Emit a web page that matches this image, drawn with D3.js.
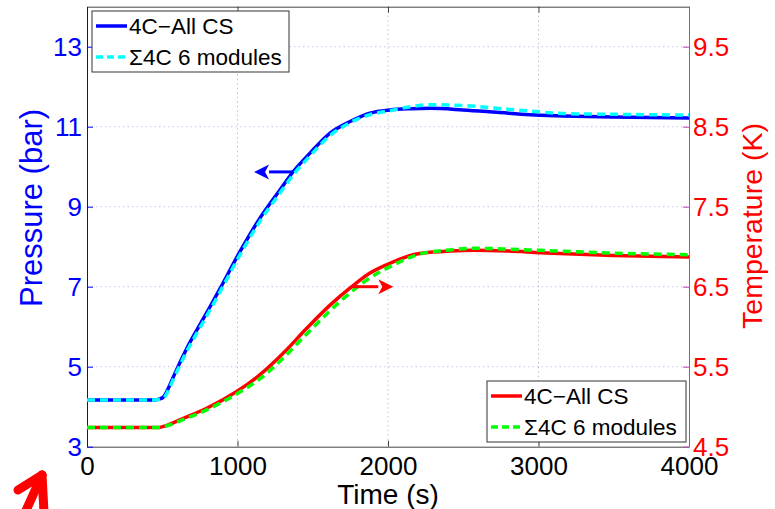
<!DOCTYPE html>
<html>
<head>
<meta charset="utf-8">
<script src="https://cdn.jsdelivr.net/npm/d3@7"></script>
<style>
  body { margin: 0; background: #fff; }
  svg { display: block; }
  text { font-family: "Liberation Sans", Arial, Helvetica, sans-serif; }
</style>
</head>
<body>
<div id="chart"></div>
<script>
// axis ticks
const timeTicks = [0, 1000, 2000, 3000, 4000];
const pressureTicks = [3, 5, 7, 9, 11, 13];
const tempTicks = [4.5, 5.5, 6.5, 7.5, 8.5, 9.5];

// pressure (bar), left axis
const pTime = [0, 440, 480, 510, 545, 585, 662, 773, 884, 1005, 1150, 1282, 1371, 1482, 1615, 1748, 1880, 2013, 2150, 2279, 2498, 2724, 2944, 3163, 3495, 4000];
const pAllCS = [4.17, 4.17, 4.19, 4.25, 4.5, 4.84, 5.45, 6.2, 6.95, 7.8, 8.72, 9.42, 9.88, 10.34, 10.84, 11.13, 11.34, 11.42, 11.45, 11.46, 11.42, 11.36, 11.30, 11.27, 11.24, 11.22];
const pSum6 = [4.17, 4.17, 4.18, 4.22, 4.45, 4.78, 5.38, 6.12, 6.87, 7.72, 8.64, 9.34, 9.80, 10.27, 10.78, 11.10, 11.30, 11.40, 11.50, 11.55, 11.53, 11.46, 11.39, 11.33, 11.31, 11.29];

// temperature (K), right axis
const tTime = [0, 480, 520, 640, 795, 995, 1150, 1305, 1460, 1615, 1759, 1880, 2035, 2166, 2235, 2412, 2565, 2800, 3010, 3495, 4000];
const tAllCS = [4.74, 4.74, 4.76, 4.855, 4.98, 5.19, 5.40, 5.67, 5.98, 6.27, 6.50, 6.67, 6.81, 6.90, 6.92, 6.945, 6.955, 6.945, 6.925, 6.89, 6.87];
const tSum6 = [4.74, 4.74, 4.755, 4.84, 4.96, 5.16, 5.35, 5.61, 5.91, 6.20, 6.44, 6.61, 6.77, 6.88, 6.92, 6.96, 6.98, 6.97, 6.955, 6.92, 6.90];

const legendTop = ["4C\u2212All CS", "\u03A34C 6 modules"];
const legendBottom = ["4C\u2212All CS", "\u03A34C 6 modules"];

const W = 775, H = 509;
const plotLeft = 87, plotRight = 689, plotTop = 6.7, plotBottom = 446.7;

const svg = d3.select("#chart").append("svg")
  .attr("width", W)
  .attr("height", H);

const x = d3.scaleLinear().domain([0, 4000]).range([plotLeft, plotRight]);
const yP = d3.scaleLinear().domain([3, 14]).range([plotBottom, plotTop]);
const yT = d3.scaleLinear().domain([4.5, 10]).range([plotBottom, plotTop]);

// grid
svg.append("g").selectAll("line")
  .data(timeTicks.slice(1, -1))
  .enter().append("line")
  .attr("x1", d => x(d)).attr("x2", d => x(d))
  .attr("y1", plotTop).attr("y2", plotBottom)
  .attr("stroke", "#c4c4c4")
  .attr("stroke-width", 1)
  .attr("stroke-dasharray", "1.5,3");

svg.append("g").selectAll("line")
  .data(pressureTicks.slice(1))
  .enter().append("line")
  .attr("x1", plotLeft).attr("x2", plotRight)
  .attr("y1", d => yP(d)).attr("y2", d => yP(d))
  .attr("stroke", "#c8c8f4")
  .attr("stroke-width", 1)
  .attr("stroke-dasharray", "1.5,3");

// axes
function styleAxis(g, color, fontColor) {
  g.select(".domain").attr("stroke", color).attr("stroke-width", 1);
  g.selectAll(".tick line").attr("stroke", color);
  g.selectAll(".tick text")
    .attr("fill", fontColor)
    .style("font-size", "26px")
    .style("font-family", "\"Liberation Sans\", Arial, sans-serif");
}

svg.append("g")
  .attr("transform", "translate(0," + plotTop + ")")
  .call(d3.axisTop(x).tickValues(timeTicks).tickSize(-6).tickSizeOuter(0).tickFormat(""))
  .call(g => styleAxis(g, "#444", "#000"));

svg.append("g")
  .attr("transform", "translate(0," + plotBottom + ")")
  .call(d3.axisBottom(x).tickValues(timeTicks).tickFormat(d3.format("d"))
    .tickSize(-6).tickSizeOuter(0).tickPadding(10))
  .call(g => styleAxis(g, "#444", "#000"));

svg.append("g")
  .attr("transform", "translate(" + plotLeft + ",0)")
  .call(d3.axisLeft(yP).tickValues(pressureTicks).tickSize(-6).tickSizeOuter(0).tickPadding(5))
  .call(g => styleAxis(g, "#0000ff", "#0000ff"));

svg.append("g")
  .attr("transform", "translate(" + plotRight + ",0)")
  .call(d3.axisRight(yT).tickValues(tempTicks).tickFormat(d3.format(".1f"))
    .tickSize(-6).tickSizeOuter(0).tickPadding(4))
  .call(g => styleAxis(g, "#c040b0", "#ff0000"));

// axis titles
svg.append("text")
  .attr("x", (plotLeft + plotRight) / 2)
  .attr("y", 504)
  .attr("text-anchor", "middle")
  .style("font-size", "28px")
  .text("Time (s)");

svg.append("text")
  .attr("transform", "translate(42,208) rotate(-90)")
  .attr("text-anchor", "middle")
  .attr("fill", "#0000ff")
  .style("font-size", "31px")
  .text("Pressure (bar)");

svg.append("text")
  .attr("transform", "translate(762,226) rotate(-90)")
  .attr("text-anchor", "middle")
  .attr("fill", "#ff0000")
  .style("font-size", "28.5px")
  .text("Temperature (K)");

// lines
const lineP = d3.line()
  .x(d => x(d[0]))
  .y(d => yP(d[1]))
  .curve(d3.curveMonotoneX);

const lineT = d3.line()
  .x(d => x(d[0]))
  .y(d => yT(d[1]))
  .curve(d3.curveMonotoneX);

const plot = svg.append("g");

plot.append("path")
  .datum(d3.zip(pTime, pAllCS))
  .attr("d", lineP)
  .attr("fill", "none")
  .attr("stroke", "#0000ff")
  .attr("stroke-width", 3.5);

plot.append("path")
  .datum(d3.zip(pTime, pSum6))
  .attr("d", lineP)
  .attr("fill", "none")
  .attr("stroke", "#00ffff")
  .attr("stroke-width", 3.5)
  .attr("stroke-dasharray", "8,5");

plot.append("path")
  .datum(d3.zip(tTime, tAllCS))
  .attr("d", lineT)
  .attr("fill", "none")
  .attr("stroke", "#ff0000")
  .attr("stroke-width", 3.5);

plot.append("path")
  .datum(d3.zip(tTime, tSum6))
  .attr("d", lineT)
  .attr("fill", "none")
  .attr("stroke", "#00ff00")
  .attr("stroke-width", 3.5)
  .attr("stroke-dasharray", "8,5");

// arrows pointing to the axes
function arrow(x1, y1, x2, y2, color) {
  const ang = Math.atan2(y2 - y1, x2 - x1);
  const hl = 15, hw = 7.5;
  const bx = x2 - hl * Math.cos(ang), by = y2 - hl * Math.sin(ang);
  plot.append("line")
    .attr("x1", x1).attr("y1", y1).attr("x2", bx).attr("y2", by)
    .attr("stroke", color).attr("stroke-width", 3);
  plot.append("path")
    .attr("d", "M" + x2 + "," + y2 +
      "L" + (bx - hw * Math.sin(ang)) + "," + (by + hw * Math.cos(ang)) +
      "L" + (bx + 4 * Math.cos(ang)) + "," + (by + 4 * Math.sin(ang)) +
      "L" + (bx + hw * Math.sin(ang)) + "," + (by - hw * Math.cos(ang)) + "Z")
    .attr("fill", color);
}
arrow(x(1370), yP(9.87), x(1110), yP(9.87), "#0000ff");
arrow(x(1760), yT(6.5), x(2035), yT(6.5), "#ff0000");

// legends
function legend(x0, y0, w, labels, colors, dashes) {
  const g = svg.append("g");
  g.append("rect")
    .attr("x", x0).attr("y", y0).attr("width", w).attr("height", 61)
    .attr("fill", "#fff").attr("stroke", "#333").attr("stroke-width", 1);
  labels.forEach((lab, i) => {
    const cy = y0 + 15 + i * 31;
    g.append("line")
      .attr("x1", x0 + 4).attr("x2", x0 + 35)
      .attr("y1", cy).attr("y2", cy)
      .attr("stroke", colors[i]).attr("stroke-width", 3.5)
      .attr("stroke-dasharray", dashes[i]);
    g.append("text")
      .attr("x", x0 + 37).attr("y", cy + 8)
      .style("font-size", "22.5px")
      .text(lab);
  });
}
legend(92, 11, 197, legendTop, ["#0000ff", "#00ffff"], [null, "7,4"]);
legend(487, 381, 199, legendBottom, ["#ff0000", "#00ff00"], [null, "7,4"]);

// red pointer in the lower-left corner
const pointer = svg.append("g")
  .attr("stroke", "#ff0000")
  .attr("stroke-width", 9)
  .attr("stroke-linecap", "round")
  .attr("fill", "none");
pointer.append("path").attr("d", "M42,475 L18,490");
pointer.append("path").attr("d", "M42,475 L44,512");
pointer.append("path").attr("d", "M42,475 L24,515");
</script>
</body>
</html>
